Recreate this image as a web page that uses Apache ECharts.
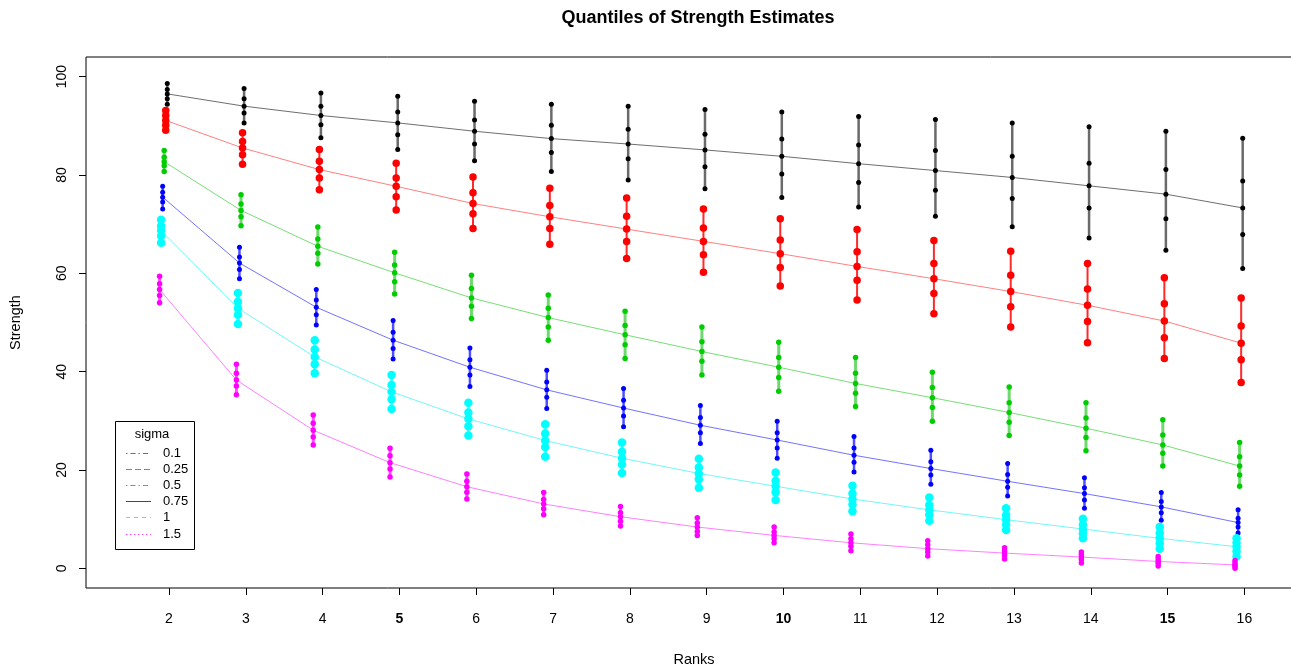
<!DOCTYPE html>
<html>
<head>
<meta charset="utf-8">
<title>Quantiles of Strength Estimates</title>
<script src="https://cdn.jsdelivr.net/npm/echarts@6/dist/echarts.min.js"></script>
<style>
  html, body { margin: 0; padding: 0; background: #fff; }
  #chart { width: 1291px; height: 672px; }
</style>
</head>
<body>
<div id="chart"></div>
<script>
// Ranks on the x axis
const ranks = [2, 3, 4, 5, 6, 7, 8, 9, 10, 11, 12, 13, 14, 15, 16];
const yTicks = [0, 20, 40, 60, 80, 100];
const sigmaLabels = ['0.1', '0.25', '0.5', '0.75', '1', '1.5'];

// Five quantiles (highest to lowest) of the strength estimate, one row per rank
const qSigma01 = [
  [98.6, 97.4, 96.5, 95.5, 94.4], [97.6, 95.5, 94.0, 92.6, 90.6], [96.7, 94.0, 92.1, 90.2, 87.6],
  [96.0, 92.8, 90.6, 88.2, 85.2], [95.0, 91.2, 88.9, 86.3, 82.9], [94.4, 90.1, 87.4, 84.6, 80.7],
  [94.0, 89.3, 86.3, 83.3, 79.0], [93.3, 88.3, 85.1, 81.7, 77.2], [92.8, 87.3, 83.8, 80.2, 75.4],
  [91.9, 86.1, 82.3, 78.5, 73.5], [91.3, 85.0, 80.9, 76.9, 71.6], [90.6, 83.8, 79.5, 75.2, 69.5],
  [89.8, 82.4, 77.8, 73.3, 67.2], [88.9, 81.1, 76.1, 71.1, 64.7], [87.5, 78.8, 73.3, 67.9, 61.0]
];
const qSigma025 = [
  [93.1, 92.1, 91.1, 90.1, 89.1], [88.6, 86.8, 85.5, 84.1, 82.2], [85.2, 82.8, 81.1, 79.4, 77.0],
  [82.4, 79.4, 77.7, 75.6, 72.9], [79.6, 76.4, 74.2, 72.1, 69.1], [77.3, 73.8, 71.5, 69.1, 65.9],
  [75.3, 71.6, 69.0, 66.5, 63.0], [73.1, 69.2, 66.5, 63.8, 60.2], [71.1, 66.8, 64.0, 61.2, 57.4],
  [68.9, 64.4, 61.4, 58.6, 54.6], [66.7, 62.0, 58.9, 55.9, 51.8], [64.5, 59.6, 56.3, 53.2, 49.1],
  [62.0, 56.8, 53.5, 50.2, 45.9], [59.1, 53.8, 50.3, 46.9, 42.7], [55.0, 49.3, 45.8, 42.4, 37.8]
];
const qSigma05 = [
  [85.0, 83.6, 82.7, 81.9, 80.7], [76.0, 74.1, 72.8, 71.5, 69.7], [69.4, 67.0, 65.5, 64.1, 61.9],
  [64.3, 61.7, 60.1, 58.3, 55.8], [59.6, 56.9, 55.0, 53.3, 50.8], [55.6, 52.9, 51.0, 49.1, 46.4],
  [52.3, 49.4, 47.5, 45.5, 42.7], [49.1, 46.1, 44.1, 42.1, 39.3], [46.0, 42.9, 40.9, 38.8, 36.0],
  [42.9, 39.7, 37.6, 35.6, 32.9], [39.9, 36.8, 34.7, 32.7, 29.9], [36.9, 33.7, 31.7, 29.7, 27.0],
  [33.7, 30.6, 28.5, 26.6, 23.9], [30.2, 27.1, 25.1, 23.4, 20.8], [25.6, 22.7, 20.8, 19.0, 16.7]
];
const qSigma075 = [
  [77.7, 76.5, 75.5, 74.5, 73.1], [65.3, 63.3, 62.1, 60.8, 58.9], [56.7, 54.6, 53.1, 51.6, 49.5],
  [50.4, 48.0, 46.4, 44.7, 42.6], [44.8, 42.4, 40.9, 39.3, 37.0], [40.3, 37.9, 36.3, 34.8, 32.5],
  [36.6, 34.2, 32.6, 31.0, 28.8], [33.1, 30.7, 29.1, 27.6, 25.4], [29.9, 27.6, 26.1, 24.5, 22.4],
  [26.8, 24.5, 23.0, 21.6, 19.6], [24.0, 21.7, 20.3, 19.0, 17.1], [21.3, 19.1, 17.7, 16.5, 14.7],
  [18.4, 16.4, 15.2, 13.9, 12.2], [15.4, 13.6, 12.5, 11.3, 9.8], [11.9, 10.2, 9.3, 8.4, 7.2]
];
const qSigma1 = [
  [70.9, 69.7, 68.7, 67.6, 66.2], [56.0, 54.2, 52.9, 51.6, 49.7], [46.4, 44.5, 43.0, 41.5, 39.7],
  [39.3, 37.3, 35.9, 34.4, 32.4], [33.7, 31.7, 30.4, 28.9, 27.0], [29.3, 27.4, 26.0, 24.7, 22.7],
  [25.6, 23.7, 22.4, 21.1, 19.4], [22.3, 20.5, 19.3, 18.1, 16.4], [19.5, 17.8, 16.7, 15.5, 13.9],
  [16.8, 15.2, 14.1, 13.0, 11.6], [14.4, 12.9, 11.9, 10.9, 9.7], [12.2, 10.8, 9.9, 8.9, 7.8],
  [10.1, 8.9, 8.0, 7.1, 6.1], [8.4, 7.2, 6.1, 5.1, 4.0], [6.1, 5.2, 4.4, 3.5, 2.4]
];
const qSigma15 = [
  [59.4, 57.9, 56.7, 55.5, 54.0], [41.5, 39.7, 38.3, 37.1, 35.3], [31.2, 29.5, 28.1, 26.7, 25.1],
  [24.4, 22.9, 21.5, 20.2, 18.6], [19.2, 17.7, 16.6, 15.5, 14.1], [15.4, 14.0, 13.1, 12.1, 10.9],
  [12.6, 11.3, 10.5, 9.6, 8.6], [10.3, 9.2, 8.4, 7.5, 6.7], [8.4, 7.4, 6.7, 6.0, 5.2],
  [7.0, 6.0, 5.2, 4.5, 3.6], [5.6, 4.8, 4.0, 3.3, 2.5], [4.2, 3.6, 3.1, 2.6, 1.9],
  [3.3, 2.8, 2.3, 1.8, 1.1], [2.4, 1.9, 1.4, 1.0, 0.5], [1.6, 1.1, 0.7, 0.4, 0.0]
];

// Drawing styles for each sigma group (small horizontal dodge keeps the bars apart)
const groups = [
  { q: qSigma01,  color: '#000000', seg: '#6a6a6a', segW: 2.5, line: '#555555', size: 5,   dodge: -0.022 },
  { q: qSigma025, color: '#ff0000', seg: '#ff2a2a', segW: 2,   line: '#ff6a6a', size: 7.5, dodge: -0.042 },
  { q: qSigma05,  color: '#00cd00', seg: '#6fd86f', segW: 3,   line: '#5fd85f', size: 5.5, dodge: -0.062 },
  { q: qSigma075, color: '#0000ff', seg: '#5050ff', segW: 2.5, line: '#5a5aff', size: 5,   dodge: -0.082 },
  { q: qSigma1,   color: '#00ffff', seg: '#4cffff', segW: 3,   line: '#5cf5f5', size: 8.5, dodge: -0.102 },
  { q: qSigma15,  color: '#ff00ff', seg: '#ff4cff', segW: 3,   line: '#ff6aff', size: 5.5, dodge: -0.122 }
];
const legendDash = [[1.5, 3, 5, 3], [6, 3], [1.5, 3, 5, 3], [], [4, 4], [1.5, 2.5]];
const legendColor = ['#6f6f6f', '#ff5050', '#30d030', '#3030ff', '#30f0f0', '#ff50ff'];

const FONT = '"Liberation Sans", Arial, Helvetica, sans-serif';
const series = [];

groups.forEach(function (g, gi) {
  // vertical quantile bar
  series.push({
    type: 'custom',
    z: 2 + gi * 3,
    silent: true,
    data: ranks.map(function (r, i) { return [r + g.dodge, g.q[i][0], g.q[i][4]]; }),
    renderItem: function (params, api) {
      const top = api.coord([api.value(0), api.value(1)]);
      const bot = api.coord([api.value(0), api.value(2)]);
      return {
        type: 'line',
        shape: { x1: top[0], y1: top[1], x2: bot[0], y2: bot[1] },
        style: { stroke: g.seg, lineWidth: g.segW }
      };
    }
  });
  // median curve
  series.push({
    type: 'line',
    z: 3 + gi * 3,
    silent: true,
    symbol: 'none',
    data: ranks.map(function (r, i) { return [r + g.dodge, g.q[i][2]]; }),
    lineStyle: { color: g.line, width: 1, opacity: 0.85 }
  });
  // quantile points
  const pts = [];
  ranks.forEach(function (r, i) { g.q[i].forEach(function (v) { pts.push([r + g.dodge, v]); }); });
  series.push({
    type: 'scatter',
    z: 4 + gi * 3,
    silent: true,
    symbol: 'circle',
    symbolSize: g.size,
    data: pts,
    itemStyle: { color: g.color, opacity: 1 }
  });
});

// Legend box drawn with graphic primitives
const legendGraphics = [
  { type: 'rect', z: 100, shape: { x: 115.5, y: 421.5, width: 79, height: 128 },
    style: { fill: '#fff', stroke: '#000', lineWidth: 1 } },
  { type: 'text', z: 101, x: 152, y: 434, style: { text: 'sigma', fontSize: 13, fontFamily: FONT,
    fill: '#000', align: 'center', verticalAlign: 'middle' } }
];
sigmaLabels.forEach(function (s, i) {
  const y = Math.round(453 + i * 16.1) + 0.5;
  legendGraphics.push({ type: 'polyline', z: 101, shape: { points: [[126, y], [151, y]] },
    style: { fill: null, stroke: legendColor[i], lineWidth: 1, lineDash: legendDash[i] } });
  legendGraphics.push({ type: 'text', z: 101, x: 163, y: y, style: { text: s, fontSize: 13, fontFamily: FONT,
    fill: '#000', align: 'left', verticalAlign: 'middle' } });
});

const boldTicks = [5, 10, 15];

const option = {
  animation: false,
  backgroundColor: '#ffffff',
  grid: { left: 86, right: -11, top: 57, bottom: 84, show: true, borderColor: '#000', borderWidth: 1,
    containLabel: false, outerBoundsMode: 'none' },
  xAxis: {
    type: 'value', min: 0.92, max: 16.75,
    name: 'Ranks', nameLocation: 'middle', nameGap: 64,
    nameTextStyle: { fontSize: 14.5, fontFamily: FONT, color: '#000' },
    axisLine: { show: false, onZero: false },
    splitLine: { show: false },
    axisTick: { show: true, customValues: ranks, length: 7, inside: false, lineStyle: { color: '#000' } },
    axisLabel: {
      customValues: ranks, margin: 24, fontSize: 14, fontFamily: FONT, color: '#000',
      formatter: function (v) { return boldTicks.indexOf(v) >= 0 ? '{b|' + v + '}' : '' + v; },
      rich: { b: { fontWeight: 'bold', fontSize: 14, fontFamily: FONT, color: '#000' } }
    }
  },
  yAxis: {
    type: 'value', min: -4, max: 104,
    name: 'Strength', nameLocation: 'middle', nameGap: 63, nameRotate: 90,
    nameTextStyle: { fontSize: 14.5, fontFamily: FONT, color: '#000' },
    axisLine: { show: false, onZero: false },
    splitLine: { show: false },
    axisTick: { show: true, customValues: yTicks, length: 7, lineStyle: { color: '#000' } },
    axisLabel: { customValues: yTicks, rotate: 90, margin: 17, fontSize: 14, fontFamily: FONT, color: '#000' }
  },
  graphic: [
    { type: 'text', x: 698, y: 18, style: { text: 'Quantiles of Strength Estimates', fontSize: 18,
      fontWeight: 'bold', fontFamily: FONT, fill: '#000', align: 'center', verticalAlign: 'middle' } }
  ].concat(legendGraphics),
  series: series
};

const chart = echarts.init(document.getElementById('chart'), null, { renderer: 'canvas' });
chart.setOption(option);
</script>
</body>
</html>
